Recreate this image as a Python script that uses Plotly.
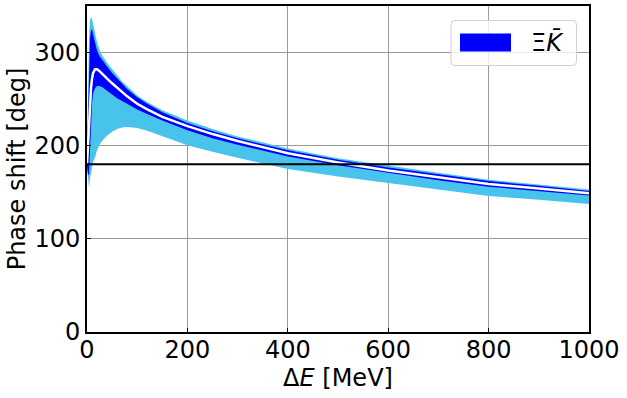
import plotly.graph_objects as go

# Energy grid [MeV]
energy = [0, 2, 4, 6, 8, 10, 12, 16, 20, 25, 30, 40, 50, 60, 70, 80, 100, 120, 150,
          200, 250, 300, 400, 500, 600, 700, 800, 900, 1000]

# Central phase shift [deg]
central = [180, 200, 225, 247, 262, 272, 278, 282, 282, 280, 277, 272, 267, 262, 257, 253, 245, 239, 231,
           221, 212.5, 205, 192, 182, 173.5, 166, 159, 154, 149]

# Inner (dark blue) band
inner_upper = [185, 240, 290, 315, 324, 325, 320, 310, 302, 296, 292, 285, 278, 272, 266, 261, 252, 245, 236,
               224.5, 215.5, 208, 195, 185, 176.5, 169, 162, 157, 151.5]
inner_lower = [178, 168, 170, 195, 225, 245, 256, 262, 264, 264, 263, 259, 255, 251, 248, 245, 239, 234, 227,
               216.5, 208, 201, 188.5, 179, 170.8, 163, 156, 151, 146.5]

# Outer (light blue) band
outer_upper = [185, 260, 315, 335, 338, 336, 331, 320, 311, 303, 297, 289, 282, 275, 269, 264, 254, 247, 238,
               227, 218, 210, 197, 186.5, 178.5, 171, 163.5, 158, 153]
outer_lower = [178, 160, 155, 165, 172, 178, 182, 188, 195, 201, 205, 211, 215, 218, 219.5, 220, 219, 216, 210.5,
               200.5, 193.5, 187, 175, 167, 160, 153, 146, 142, 137.5]

ref_phase = 180
x_ticks = [0, 200, 400, 600, 800, 1000]
y_ticks = [0, 100, 200, 300]
legend_label = "Ξ<i>K̄</i>"

CYAN = "#48c4ec"
BLUE = "#0000ff"
FS = 24

fig = go.Figure()
fig.add_trace(go.Scatter(x=energy, y=outer_upper, mode="lines", line=dict(width=0, color=CYAN),
                         showlegend=False, hoverinfo="skip"))
fig.add_trace(go.Scatter(x=energy, y=outer_lower, mode="lines", line=dict(width=0, color=CYAN),
                         fill="tonexty", fillcolor=CYAN, showlegend=False, hoverinfo="skip"))
fig.add_trace(go.Scatter(x=energy, y=inner_upper, mode="lines", line=dict(width=0, color=BLUE),
                         showlegend=False, hoverinfo="skip"))
fig.add_trace(go.Scatter(x=energy, y=inner_lower, mode="lines", line=dict(width=0, color=BLUE),
                         fill="tonexty", fillcolor=BLUE, showlegend=False, hoverinfo="skip"))
fig.add_trace(go.Scatter(x=energy, y=central, mode="lines", line=dict(width=2.5, color="white"),
                         showlegend=False, hoverinfo="skip"))

fig.add_hline(y=ref_phase, line=dict(color="black", width=2))

# Manual legend (matplotlib style)
L, R, T, B = 87, 589, 6, 332
W, H = R - L, B - T
def px(x):
    return (x - L) / W
def py(y):
    return (B - y) / H
x0, x1, y0, y1 = px(451), px(576.5), py(20.5), py(65.5)
rx, ry = 4 / W, 4 / H
path = (f"M{x0+rx},{y0} L{x1-rx},{y0} Q{x1},{y0} {x1},{y0-ry} L{x1},{y1+ry} Q{x1},{y1} {x1-rx},{y1} "
        f"L{x0+rx},{y1} Q{x0},{y1} {x0},{y1+ry} L{x0},{y0-ry} Q{x0},{y0} {x0+rx},{y0} Z")
fig.add_shape(type="path", path=path, xref="paper", yref="paper",
              fillcolor="rgba(255,255,255,0.8)", line=dict(color="#d0d0d0", width=1), layer="above")
fig.add_shape(type="rect", xref="paper", yref="paper", x0=px(460), x1=px(511), y0=py(51.5), y1=py(33.5),
              fillcolor=BLUE, line=dict(width=0), layer="above")
fig.add_annotation(text=legend_label, xref="paper", yref="paper", x=px(529), y=py(42),
                   xanchor="left", yanchor="middle", showarrow=False,
                   font=dict(size=FS, color="black", family="DejaVu Sans"))

axis_common = dict(showline=True, mirror=True, linecolor="black", linewidth=2,
                   ticks="inside", ticklen=4, tickwidth=1, tickcolor="black",
                   showgrid=True, gridcolor="#9a9a9a", gridwidth=1, zeroline=False,
                   automargin=False, tickfont=dict(size=FS, color="black"))

fig.update_layout(
    width=627, height=398,
    margin=dict(l=87, r=38, t=6, b=66),
    paper_bgcolor="white", plot_bgcolor="white",
    font=dict(family="DejaVu Sans", size=FS, color="black"),
    showlegend=False,
    xaxis=dict(range=[0, 1000], tickvals=x_ticks, ticktext=[str(v) for v in x_ticks],
               ticklabelstandoff=-5,
               title=dict(text="Δ<i>E</i> [MeV]", standoff=0, font=dict(size=FS)), **axis_common),
    yaxis=dict(range=[0, 350], tickvals=y_ticks, ticktext=[str(v) for v in y_ticks],
               title=dict(text="Phase shift [deg]", standoff=2, font=dict(size=FS)), **axis_common),
)

fig.write_html("out.html", config={"displayModeBar": False},
               post_script="document.body.style.margin='0';document.body.style.overflow='hidden';")
